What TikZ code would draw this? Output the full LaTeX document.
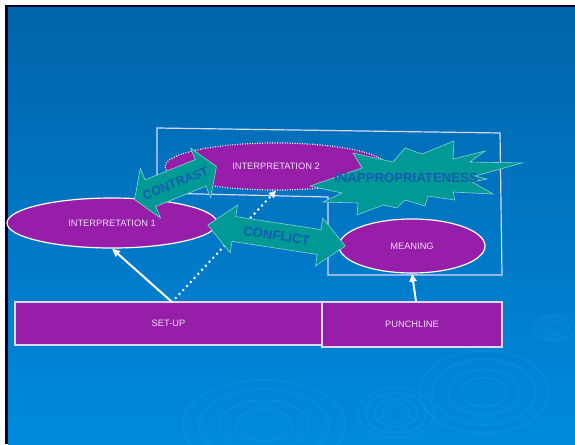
\documentclass[tikz,border=0pt]{standalone}
\usepackage{fontspec}
\setmainfont{Liberation Sans}
\usetikzlibrary{arrows.meta}
\usetikzlibrary{shapes.geometric,shapes.arrows}

\definecolor{slidetop}{RGB}{0,100,170}
\definecolor{slidebot}{RGB}{0,138,222}
\definecolor{plum}{RGB}{150,30,168}
\definecolor{tealfill}{RGB}{0,153,150}
\definecolor{labelblue}{RGB}{22,92,178}
\definecolor{pale}{RGB}{242,222,246}
\definecolor{ripple}{RGB}{40,155,235}

\begin{document}
\begin{tikzpicture}[x=1pt,y=-1pt,every node/.style={font=\fontsize{9.3}{10}\selectfont,text=pale},
  oval/.style={ellipse,draw=white,line width=1.2pt,fill=plum,inner sep=0pt},
  box/.style={rectangle,draw=white!85!blue,line width=1.2pt,fill=plum,inner sep=0pt},
  link/.style={draw=white,line width=2pt,-{Triangle[width=7pt,length=8pt]}},
  dots/.style={draw=white,line width=2.8pt,line cap=round,dash pattern=on 0pt off 5.5pt,-{Triangle[width=7pt,length=7pt]}},
  block/.style={double arrow,draw=white!55!tealfill,fill=tealfill,line width=0.6pt,text=labelblue,inner xsep=0pt,text depth=0pt},
  burst/.style={draw=white!55!tealfill,fill=tealfill,line width=0.6pt}]

	\useasboundingbox (0,0) rectangle (575,444);
	\fill[white] (0,0) rectangle (575,444);
	\fill[black!85!blue] (5,5) rectangle (575,444);
	\shade[top color=slidetop,bottom color=slidebot] (8,8) rectangle (575,444);
	\foreach \cx/\cy/\rx/\ry in {484/392/65/41,264/425/81/45,396/413/38/25,554/328/20/13}
		\foreach \k in {1,0.8,0.55,0.35}
			\draw[ripple,line width=2pt,opacity=.22] (\cx,\cy) ellipse ({\k*\rx pt} and {\k*\ry pt});

	\draw[white!85!blue,line width=1.2pt] (157,128) -- (500,133) -- (502,275) -- (328,275) -- (328,197) -- (157,193) -- cycle;

	\node[oval,minimum width=210pt,minimum height=50pt] (interp1) at (112,223) {INTERPRETATION 1};
	\node[oval,dash pattern=on 0.9pt off 1.6pt,minimum width=222pt,minimum height=47pt] (interp2) at (276,166.5) {INTERPRETATION 2};
	\node[oval,minimum width=146pt,minimum height=54pt] (meaning) at (412,246) {MEANING};
	\node[box,minimum width=307pt,minimum height=43pt] (setup) at (168.5,323.5) {SET-UP};
	\node[box,minimum width=180pt,minimum height=45pt] (punch) at (412,324.5) {PUNCHLINE};

	\coordinate (fork) at (172,302);
	\draw[link] (fork) -- (interp1.south);
	\draw[dots] (fork) -- (interp2.south);
	\draw[link] ([xshift=4pt]punch.north) -- (meaning.south);

	\filldraw[burst] (310,186) -- (342,193) -- (323,202) -- (358,203) -- (357,215) -- (383,205) -- (397,208)
		-- (405,200) -- (425,206) -- (428,196) -- (455,200) -- (453,192) -- (493,194) -- (472,182)
		-- (487,179) -- (475,176) -- (522,163) -- (470,162) -- (485,151) -- (453,159) -- (454,141)
		-- (422,154) -- (405,148) -- (393,162) -- (353,153) -- (362,168) -- cycle;
	\node[font=\fontsize{13.2}{14}\selectfont\bfseries,text=labelblue] (inapp) at (406,178) {INAPPROPRIATENESS};

	\node[block,font=\fontsize{12.5}{13}\selectfont\bfseries,text height=9pt,inner ysep=9.5pt,minimum height=85pt,
		double arrow head extend=12.5pt,double arrow tip angle=115,rotate=22] (contrast) at (175.5,183) {CONTRAST};
	\node[block,font=\fontsize{13.2}{14}\selectfont\bfseries,text height=9.5pt,inner ysep=7.5pt,minimum height=139pt,
		double arrow head extend=11.6pt,double arrow tip angle=85,rotate=-8.7] (conflict) at (276.5,235.5) {CONFLICT};

\end{tikzpicture}
\end{document}
